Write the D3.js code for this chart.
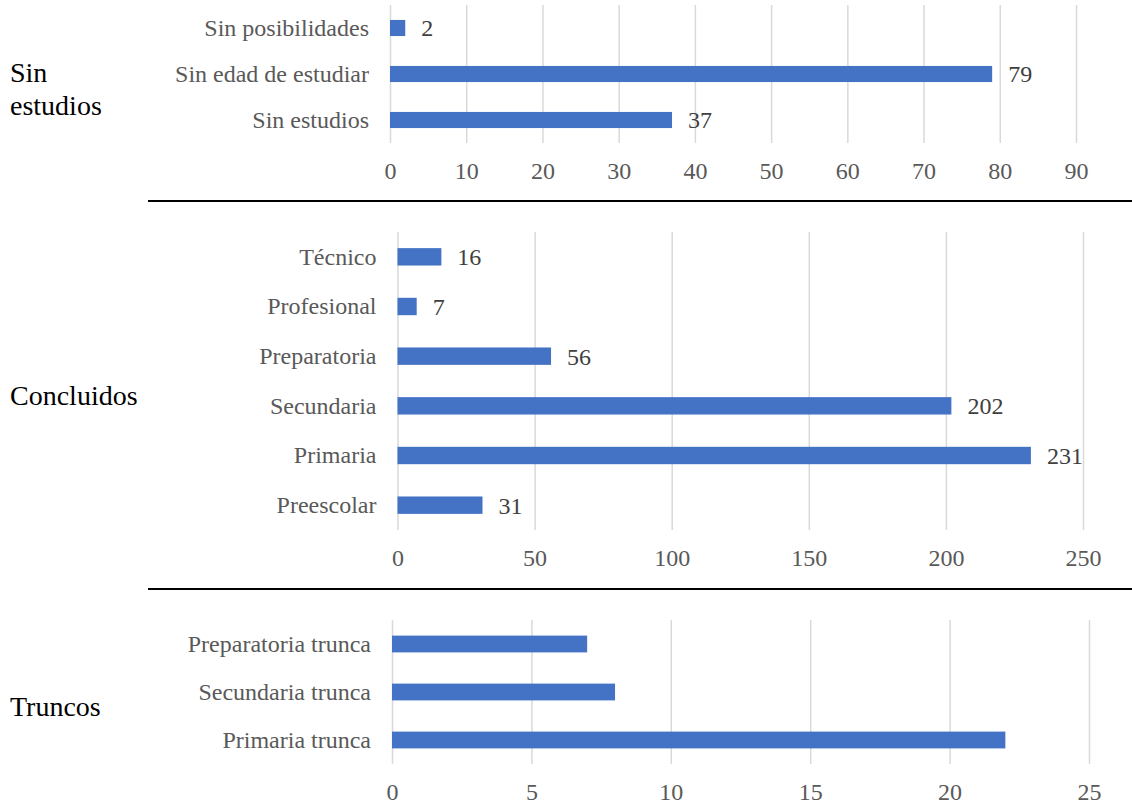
<!DOCTYPE html>
<html>
<head>
<meta charset="utf-8">
<script src="https://cdn.jsdelivr.net/npm/d3@7"></script>
<style>
  html, body { margin: 0; padding: 0; background: #fff; }
  svg { display: block; font-family: "Liberation Serif", "Times New Roman", serif; }
</style>
</head>
<body>
<svg id="chart" width="1132" height="806"></svg>
<script>
// ---- Data ----
const groupNames = ["Sin estudios", "Concluidos", "Truncos"];

const sinEstudiosCategories = ["Sin posibilidades", "Sin edad de estudiar", "Sin estudios"];
const sinEstudiosValues = [2, 79, 37];
const sinEstudiosTicks = [0, 10, 20, 30, 40, 50, 60, 70, 80, 90];

const concluidosCategories = ["Técnico", "Profesional", "Preparatoria", "Secundaria", "Primaria", "Preescolar"];
const concluidosValues = [16, 7, 56, 202, 231, 31];
const concluidosTicks = [0, 50, 100, 150, 200, 250];

const truncosCategories = ["Preparatoria trunca", "Secundaria trunca", "Primaria trunca"];
const truncosValues = [7, 8, 22];
const truncosTicks = [0, 5, 10, 15, 20, 25];

// ---- Layout (positions/styles) ----
const panels = [
  { cats: sinEstudiosCategories, vals: sinEstudiosValues, ticks: sinEstudiosTicks,
    x0: 390, x1: 1076, top: 5, bottom: 143, showValues: true,
    groupLines: ["Sin", "estudios"], groupY: [82, 115] },
  { cats: concluidosCategories, vals: concluidosValues, ticks: concluidosTicks,
    x0: 397.5, x1: 1083, top: 232, bottom: 530, showValues: true,
    groupLines: ["Concluidos"], groupY: [405] },
  { cats: truncosCategories, vals: truncosValues, ticks: truncosTicks,
    x0: 392, x1: 1089, top: 620, bottom: 764, showValues: false,
    groupLines: ["Truncos"], groupY: [716] }
];
const separatorsY = [201, 589];

const svg = d3.select("#chart");
const barColor = "#4472C4";
const gridColor = "#d9d9d9";
const labelColor = "#595959";
const valueColor = "#404040";
const serif = '"Liberation Serif", "Times New Roman", serif';

panels.forEach(p => {
  const g = svg.append("g");
  const x = d3.scaleLinear()
    .domain([p.ticks[0], p.ticks[p.ticks.length - 1]])
    .range([p.x0, p.x1]);
  const y = d3.scaleBand()
    .domain(p.cats)
    .range([p.top, p.bottom])
    .paddingInner(0.65)
    .paddingOuter(0.325);

  // x axis with gridlines
  const xAxis = g.append("g")
    .attr("transform", `translate(0,${p.bottom})`)
    .call(d3.axisBottom(x).tickValues(p.ticks).tickSize(-(p.bottom - p.top)).tickFormat(d3.format("d")));
  xAxis.attr("font-family", null);
  xAxis.select(".domain").remove();
  xAxis.selectAll(".tick line").attr("stroke", gridColor).attr("stroke-width", 1.5);
  xAxis.selectAll(".tick text")
    .attr("y", 28).attr("dy", "0.35em")
    .attr("fill", labelColor)
    .style("font-size", "24px")
    .style("font-family", serif);

  // y axis category labels
  const yAxis = g.append("g")
    .attr("transform", `translate(${p.x0},0)`)
    .call(d3.axisLeft(y).tickSize(0).tickPadding(21));
  yAxis.attr("font-family", null);
  yAxis.select(".domain").remove();
  yAxis.selectAll(".tick text")
    .attr("fill", labelColor)
    .style("font-size", "24px")
    .style("font-family", serif);

  // bars
  const data = p.cats.map((c, i) => ({ cat: c, val: p.vals[i] }));
  g.selectAll("rect.bar").data(data).enter().append("rect")
    .attr("class", "bar")
    .attr("x", x(0))
    .attr("y", d => y(d.cat))
    .attr("width", d => x(d.val) - x(0))
    .attr("height", y.bandwidth())
    .attr("fill", barColor);

  // value labels
  if (p.showValues) {
    g.selectAll("text.val").data(data).enter().append("text")
      .attr("class", "val")
      .attr("x", d => x(d.val) + 16)
      .attr("y", d => y(d.cat) + y.bandwidth() / 2)
      .attr("dy", "0.35em")
      .attr("fill", valueColor)
      .style("font-size", "24px")
      .style("font-family", serif)
      .text(d => d.val);
  }

  // group label
  p.groupLines.forEach((t, i) => {
    svg.append("text")
      .attr("x", 10)
      .attr("y", p.groupY[i])
      .attr("fill", "#000")
      .style("font-size", "28px")
      .style("font-family", serif)
      .text(t);
  });
});

// separators
separatorsY.forEach(sy => {
  svg.append("line")
    .attr("x1", 148).attr("x2", 1132)
    .attr("y1", sy).attr("y2", sy)
    .attr("stroke", "#000").attr("stroke-width", 2);
});
</script>
</body>
</html>
